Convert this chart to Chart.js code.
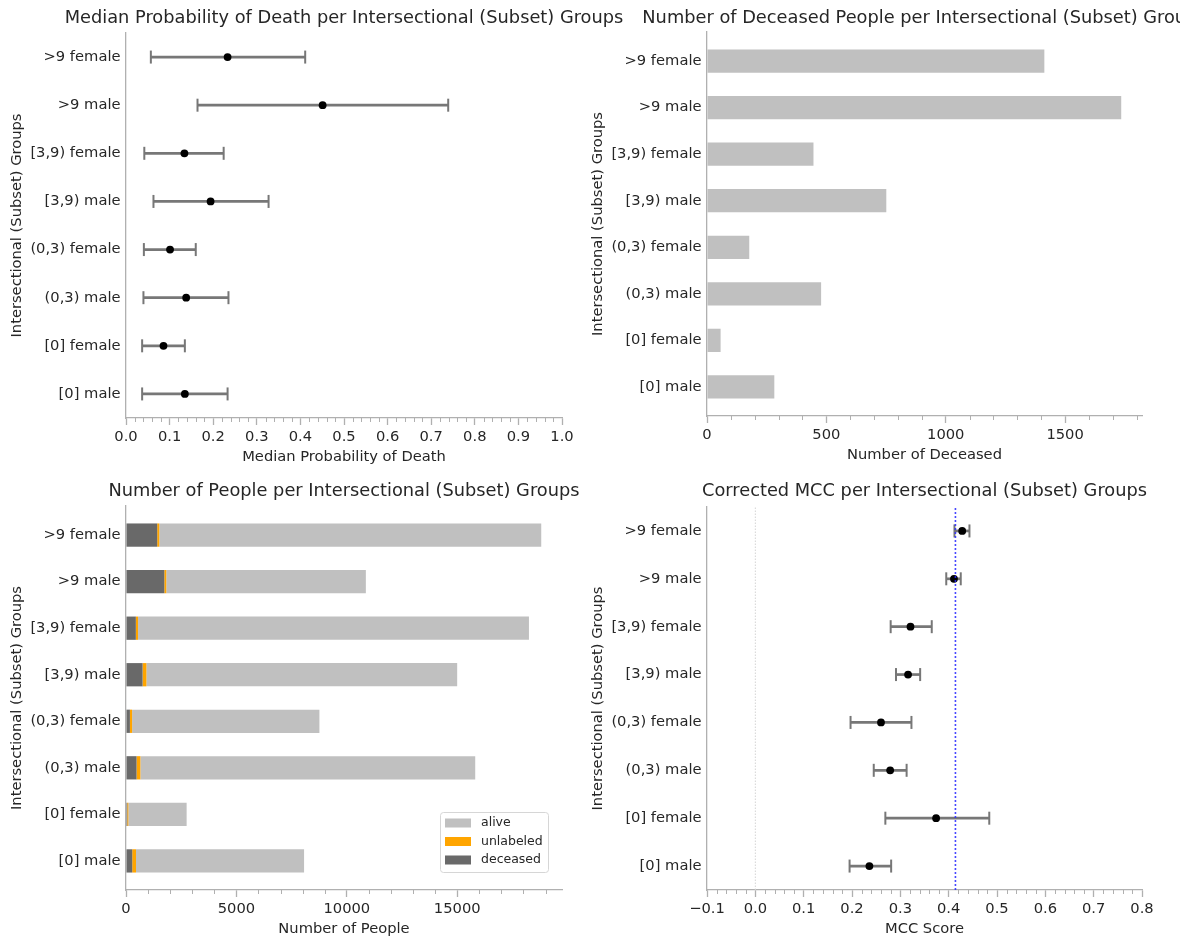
<!DOCTYPE html>
<html>
<head>
<meta charset="utf-8">
<script src="https://cdn.jsdelivr.net/npm/chart.js@4.4.1/dist/chart.umd.min.js"></script>
<style>
html, body { margin: 0; padding: 0; background: #fff; }
#wrap { position: relative; width: 1180px; height: 943px; overflow: hidden; }
#wrap canvas { position: absolute; left: 0; top: 0; }
</style>
</head>
<body>
<div id="wrap">
  <canvas id="probChart" width="1180" height="943"></canvas>
  <canvas id="deceasedChart" width="1180" height="943"></canvas>
  <canvas id="peopleChart" width="1180" height="943"></canvas>
  <canvas id="mccChart" width="1180" height="943"></canvas>
</div>
<script>
// groups, bottom to top
const categories = ['[0] male', '[0] female', '(0,3) male', '(0,3) female',
                    '[3,9) male', '[3,9) female', '>9 male', '>9 female'];

// median probability of death with interval
const probMedian = [0.135, 0.086, 0.138, 0.101, 0.194, 0.134, 0.451, 0.233];
const probLow    = [0.037, 0.037, 0.040, 0.041, 0.063, 0.042, 0.164, 0.057];
const probHigh   = [0.233, 0.135, 0.235, 0.160, 0.327, 0.224, 0.739, 0.411];

// counts
const deceasedCount  = [282, 57, 478, 177, 751, 446, 1735, 1413];
const unlabeledCount = [170, 50, 175, 100, 175, 100, 90, 95];
const aliveCount     = [7612, 2639, 15162, 8482, 14072, 17702, 9037, 17297];

// corrected MCC with interval
const mccScore = [0.236, 0.374, 0.279, 0.260, 0.316, 0.321, 0.411, 0.428];
const mccLow   = [0.195, 0.269, 0.245, 0.197, 0.291, 0.280, 0.395, 0.412];
const mccHigh  = [0.281, 0.484, 0.313, 0.323, 0.341, 0.365, 0.425, 0.443];
const mccBaseline = 0;
const mccOverall = 0.414;

// tick labels
const probTicks = [0, 0.1, 0.2, 0.3, 0.4, 0.5, 0.6, 0.7, 0.8, 0.9, 1.0];
const deceasedTicks = [0, 500, 1000, 1500];
const peopleTicks = [0, 5000, 10000, 15000];
const mccTicks = [-0.1, 0, 0.1, 0.2, 0.3, 0.4, 0.5, 0.6, 0.7, 0.8];

const textColor = '#262626';
const spineColor = '#b0b0b0';
const errColor = '#777777';
const FONT = 'DejaVu Sans';

Chart.defaults.font.family = FONT;
Chart.defaults.color = textColor;
Chart.defaults.animation = false;

function fmt1(v) {
  return (v < -1e-9 ? '\u2212' : '') + Math.abs(v).toFixed(1);
}

function xAxis(min, max, ticks, title, format) {
  return {
    type: 'linear', min: min, max: max,
    afterBuildTicks: axis => { axis.ticks = ticks.map(v => ({value: v})); },
    afterFit: scale => { scale.height = 50; },
    ticks: { font: {size: 14.7}, color: textColor, padding: 3, maxRotation: 0, autoSkip: false,
             callback: v => format(v) },
    grid: { drawOnChartArea: false, drawTicks: true, tickLength: 7, tickColor: spineColor, tickWidth: 1.3 },
    border: { display: true, color: spineColor, width: 1.3 },
    title: { display: true, text: title, font: {size: 14.7}, color: textColor, padding: {top: 0, bottom: 2.2} }
  };
}

function yAxis(pad) {
  return {
    type: 'linear', min: -pad, max: categories.length - 1 + pad, offset: false,
    afterBuildTicks: axis => { axis.ticks = categories.map((c, i) => ({value: i})); },
    afterFit: scale => { scale.width = 120; },
    ticks: { font: {size: 14.7}, color: textColor, padding: 5.5, autoSkip: false,
             callback: v => categories[v] },
    grid: { display: false, drawTicks: false, offset: false },
    border: { display: true, color: spineColor, width: 1.3 },
    title: { display: true, text: 'Intersectional (Subset) Groups', font: {size: 14.7}, color: textColor,
             padding: {top: 2.2, bottom: 0} }
  };
}

function panelPadding(l, r, t, b) {
  return { left: l - 120, right: 1180 - r, top: t, bottom: 943 - b - 50 };
}

function panelTitle(text, y) {
  return {
    id: 'panelTitle',
    afterDraw(chart) {
      const ctx = chart.ctx, a = chart.chartArea;
      ctx.save();
      ctx.font = '17.8px "' + FONT + '"';
      ctx.fillStyle = textColor;
      ctx.textAlign = 'center';
      ctx.textBaseline = 'middle';
      ctx.fillText(text, (a.left + a.right) / 2, y);
      ctx.restore();
    }
  };
}

function minorTicks(step, major) {
  return {
    id: 'minorTicks',
    afterDraw(chart) {
      const sc = chart.scales.x, ctx = chart.ctx;
      const n = Math.floor((sc.max - sc.min) / step + 1e-6);
      ctx.save();
      ctx.strokeStyle = spineColor;
      ctx.lineWidth = 1;
      for (let k = 0; k <= n; k++) {
        const v = sc.min + k * step;
        if (major.some(m => Math.abs(m - v) < step / 10)) continue;
        const px = Math.round(sc.getPixelForValue(v)) + 0.5;
        ctx.beginPath();
        ctx.moveTo(px, sc.top);
        ctx.lineTo(px, sc.top + 4);
        ctx.stroke();
      }
      ctx.restore();
    }
  };
}

function errorDatasets(low, mid, high) {
  const lines = categories.map((c, i) => ({
    type: 'scatter', showLine: true, order: 3,
    data: [{x: low[i], y: i}, {x: high[i], y: i}],
    borderColor: errColor, borderWidth: 2.7, pointRadius: 0
  }));
  const caps = {
    type: 'scatter', order: 2,
    data: categories.flatMap((c, i) => [{x: low[i], y: i}, {x: high[i], y: i}]),
    pointStyle: 'line', rotation: 90, pointRadius: 6.5,
    borderColor: errColor, borderWidth: 2
  };
  const dots = {
    type: 'scatter', order: 1,
    data: categories.map((c, i) => ({x: mid[i], y: i})),
    pointRadius: 3.9, backgroundColor: '#000', borderWidth: 0
  };
  return lines.concat([caps, dots]);
}

const baseOptions = {
  responsive: false,
  events: [],
  plugins: { legend: {display: false}, tooltip: {enabled: false} }
};

// top left: median probability of death
new Chart(document.getElementById('probChart'), {
  type: 'scatter',
  data: { datasets: errorDatasets(probLow, probMedian, probHigh) },
  options: Object.assign({}, baseOptions, {
    layout: { padding: panelPadding(126, 562, 33, 418) },
    scales: {
      x: xAxis(0, 1, probTicks, 'Median Probability of Death', fmt1),
      y: yAxis(0.5)
    }
  }),
  plugins: [panelTitle('Median Probability of Death per Intersectional (Subset) Groups', 18),
            minorTicks(0.02, probTicks)]
});

// top right: number of deceased
new Chart(document.getElementById('deceasedChart'), {
  type: 'bar',
  data: {
    datasets: [{
      data: categories.map((c, i) => ({x: deceasedCount[i], y: i})),
      backgroundColor: '#c0c0c0', borderWidth: 0,
      categoryPercentage: 1, barPercentage: 0.5
    }]
  },
  options: Object.assign({}, baseOptions, {
    indexAxis: 'y',
    layout: { padding: panelPadding(707, 1142, 32, 416) },
    scales: {
      x: xAxis(0, 1822, deceasedTicks, 'Number of Deceased', v => String(v)),
      y: yAxis(0.625)
    }
  }),
  plugins: [panelTitle('Number of Deceased People per Intersectional (Subset) Groups', 18),
            minorTicks(100, deceasedTicks)]
});

// bottom left: people, stacked
const peopleLegend = {
  id: 'peopleLegend',
  afterDraw(chart) {
    const ctx = chart.ctx, a = chart.chartArea;
    const items = chart.data.datasets.slice().reverse();
    const w = 108, h = 60;
    const x0 = a.right - 14 - w, y0 = a.bottom - 18 - h;
    ctx.save();
    ctx.fillStyle = 'rgba(255,255,255,0.8)';
    ctx.strokeStyle = '#d6d6d6';
    ctx.lineWidth = 1;
    ctx.beginPath();
    if (ctx.roundRect) ctx.roundRect(x0 + 0.5, y0 + 0.5, w, h, 3); else ctx.rect(x0 + 0.5, y0 + 0.5, w, h);
    ctx.fill();
    ctx.stroke();
    ctx.font = '12.5px "' + FONT + '"';
    ctx.textBaseline = 'middle';
    items.forEach((ds, k) => {
      const cy = y0 + 11 + k * 18.5;
      ctx.fillStyle = ds.backgroundColor;
      ctx.fillRect(x0 + 5, cy - 4.5, 26, 9);
      ctx.fillStyle = textColor;
      ctx.fillText(ds.label, x0 + 41, cy);
    });
    ctx.restore();
  }
};

new Chart(document.getElementById('peopleChart'), {
  type: 'bar',
  data: {
    datasets: [
      { label: 'deceased', stack: 'people', data: categories.map((c, i) => ({x: deceasedCount[i], y: i})),
        backgroundColor: '#696969' },
      { label: 'unlabeled', stack: 'people', data: categories.map((c, i) => ({x: unlabeledCount[i], y: i})),
        backgroundColor: '#ffa500' },
      { label: 'alive', stack: 'people', data: categories.map((c, i) => ({x: aliveCount[i], y: i})),
        backgroundColor: '#c0c0c0' }
    ].map(d => Object.assign(d, {borderWidth: 0, categoryPercentage: 1, barPercentage: 0.5}))
  },
  options: Object.assign({}, baseOptions, {
    indexAxis: 'y',
    layout: { padding: panelPadding(126, 562, 506, 890) },
    scales: {
      x: xAxis(0, 19745, peopleTicks, 'Number of People', v => String(v)),
      y: yAxis(0.625)
    }
  }),
  plugins: [panelTitle('Number of People per Intersectional (Subset) Groups', 491),
            minorTicks(1000, peopleTicks), peopleLegend]
});

// bottom right: corrected MCC
const mccSets = errorDatasets(mccLow, mccScore, mccHigh).concat([
  { type: 'scatter', showLine: true, order: 6,
    data: [{x: mccBaseline, y: -0.5}, {x: mccBaseline, y: categories.length - 0.5}],
    borderColor: '#d4d4d4', borderWidth: 1, borderDash: [1.5, 1.5], pointRadius: 0 },
  { type: 'scatter', showLine: true, order: 0,
    data: [{x: mccOverall, y: -0.5}, {x: mccOverall, y: categories.length - 0.5}],
    borderColor: 'rgba(40,40,255,0.85)', borderWidth: 1.6, borderDash: [2, 2], pointRadius: 0 }
]);

new Chart(document.getElementById('mccChart'), {
  type: 'scatter',
  data: { datasets: mccSets },
  options: Object.assign({}, baseOptions, {
    layout: { padding: panelPadding(707, 1142, 507, 890) },
    scales: {
      x: xAxis(-0.1, 0.8, mccTicks, 'MCC Score', fmt1),
      y: yAxis(0.5)
    }
  }),
  plugins: [panelTitle('Corrected MCC per Intersectional (Subset) Groups', 491),
            minorTicks(0.02, mccTicks)]
});
</script>
</body>
</html>
